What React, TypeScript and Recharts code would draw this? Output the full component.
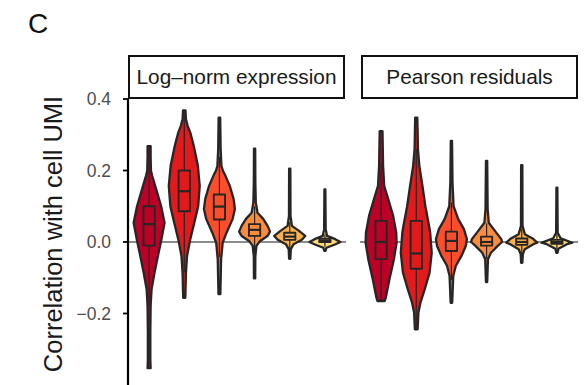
import React from 'react';
import { ScatterChart, Scatter, XAxis, YAxis, ReferenceLine } from 'recharts';

// ---------- data ----------
const groups = [1, 2, 3, 4, 5, 6];
const groupColors = ['#BD0026', '#E31A1C', '#FC4E2A', '#FD8D3C', '#FEB24C', '#FED976'];
const panelTitles = ['Log\u2013norm expression', 'Pearson residuals'];
const yTicks = [-0.2, 0, 0.2, 0.4];
const yTitle = 'Correlation with cell UMI';
const panelTag = 'C';

// Violin outlines: y levels (top -> bottom) and relative half-widths (1 = widest)
const logNormY = [
  [0.268, 0.24, 0.2, 0.185, 0.147, 0.1, 0.054, 0.008, -0.039, -0.086, -0.132, -0.179, -0.25, -0.33, -0.353],
  [0.368, 0.343, 0.325, 0.306, 0.268, 0.213, 0.157, 0.1, 0.054, 0.008, -0.039, -0.086, -0.156],
  [0.348, 0.26, 0.213, 0.2, 0.185, 0.157, 0.12, 0.092, 0.064, 0.026, -0.002, -0.048, -0.146],
  [0.261, 0.166, 0.11, 0.082, 0.064, 0.045, 0.029, 0.017, 0.003, -0.011, -0.04, -0.102],
  [0.205, 0.073, 0.045, 0.031, 0.017, 0.006, -0.006, -0.02, -0.047],
  [0.147, 0.036, 0.017, 0.008, 0.0, -0.007, -0.016, -0.025],
];
const logNormW = [
  [0.1, 0.1, 0.12, 0.2, 0.46, 0.78, 1.0, 0.8, 0.57, 0.35, 0.16, 0.1, 0.08, 0.08, 0.1],
  [0.08, 0.11, 0.22, 0.39, 0.62, 0.88, 1.0, 0.9, 0.65, 0.39, 0.18, 0.11, 0.07],
  [0.05, 0.08, 0.13, 0.22, 0.39, 0.67, 0.92, 1.0, 0.85, 0.46, 0.21, 0.11, 0.06],
  [0.04, 0.05, 0.08, 0.19, 0.57, 0.84, 1.0, 0.84, 0.36, 0.12, 0.05, 0.04],
  [0.04, 0.05, 0.14, 0.6, 1.0, 0.78, 0.25, 0.07, 0.04],
  [0.03, 0.05, 0.14, 0.67, 1.0, 0.65, 0.1, 0.04],
];
const pearsonY = [
  [0.31, 0.213, 0.157, 0.12, 0.073, 0.026, -0.002, -0.048, -0.104, -0.156, -0.165],
  [0.348, 0.26, 0.213, 0.157, 0.1, 0.045, 0.026, -0.03, -0.086, -0.132, -0.17, -0.197, -0.244],
  [0.283, 0.166, 0.1, 0.064, 0.036, 0.008, -0.011, -0.039, -0.067, -0.095, -0.17],
  [0.227, 0.092, 0.054, 0.031, 0.008, 0.0, -0.011, -0.03, -0.048, -0.112],
  [0.215, 0.045, 0.022, 0.01, -0.002, -0.006, -0.02, -0.034, -0.058],
  [0.152, 0.026, 0.01, -0.002, -0.006, -0.019, -0.03],
];
const pearsonW = [
  [0.09, 0.13, 0.2, 0.46, 0.78, 0.98, 1.0, 0.83, 0.54, 0.3, 0.24],
  [0.07, 0.11, 0.2, 0.4, 0.59, 0.83, 0.9, 1.0, 0.86, 0.55, 0.27, 0.14, 0.09],
  [0.04, 0.07, 0.14, 0.44, 0.81, 1.0, 0.93, 0.65, 0.28, 0.12, 0.05],
  [0.04, 0.07, 0.14, 0.54, 0.95, 1.0, 0.72, 0.28, 0.09, 0.04],
  [0.04, 0.05, 0.2, 0.7, 1.0, 0.75, 0.2, 0.07, 0.04],
  [0.03, 0.05, 0.25, 1.0, 0.65, 0.1, 0.04],
];

// Box plot statistics
const logNormQ1 = [-0.01, 0.086, 0.063, 0.017, 0.006, 0.0];
const logNormMedian = [0.05, 0.142, 0.099, 0.034, 0.015, 0.004];
const logNormQ3 = [0.1, 0.2, 0.133, 0.05, 0.026, 0.009];
const logNormLo = [-0.175, -0.085, -0.042, -0.033, -0.024, -0.013];
const logNormHi = [0.265, 0.365, 0.238, 0.1, 0.056, 0.022];

const pearsonQ1 = [-0.048, -0.075, -0.025, -0.01, -0.008, -0.005];
const pearsonMedian = [0.0, -0.032, 0.003, 0.0, 0.0, 0.0];
const pearsonQ3 = [0.059, 0.059, 0.029, 0.015, 0.01, 0.006];
const pearsonLo = [-0.165, -0.244, -0.106, -0.047, -0.035, -0.021];
const pearsonHi = [0.22, 0.26, 0.11, 0.052, 0.037, 0.022];

// ---------- styling ----------
const FONT = 'Liberation Sans, Arial, Helvetica, sans-serif';
const OUTLINE = '#262626';
const VIOLIN_HALF = 0.44;
const BOX_HALF = 0.16;

const hidden = () => <g />;

type Pt = { x: number; y: number };

function violinPoints(center: number, ys: number[], ws: number[]): Pt[] {
  const right = ys.map((y, i) => ({ x: center + ws[i] * VIOLIN_HALF, y }));
  const left = ys.map((y, i) => ({ x: center - ws[i] * VIOLIN_HALF, y })).reverse();
  return [...right, ...left];
}

function boxPoints(center: number, q1: number, q3: number): Pt[] {
  return [
    { x: center - BOX_HALF, y: q3 },
    { x: center + BOX_HALF, y: q3 },
    { x: center + BOX_HALF, y: q1 },
    { x: center - BOX_HALF, y: q1 },
  ];
}

type PanelProps = {
  width: number;
  height: number;
  margin: { top: number; right: number; bottom: number; left: number };
  showAxis: boolean;
  ys: number[][];
  ws: number[][];
  q1: number[];
  med: number[];
  q3: number[];
  lo: number[];
  hi: number[];
};

function Panel({ width, height, margin, showAxis, ys, ws, q1, med, q3, lo, hi }: PanelProps) {
  const items: React.ReactNode[] = [];
  groups.forEach((g, i) => {
    const color = groupColors[i];
    items.push(
      <Scatter
        key={`v${i}`}
        data={violinPoints(g, ys[i], ws[i])}
        shape={hidden}
        line={{ fill: color, stroke: OUTLINE, strokeWidth: 2.3, strokeLinejoin: 'round' }}
        lineJointType="linearClosed"
        isAnimationActive={false}
      />
    );
    items.push(
      <Scatter
        key={`w${i}`}
        data={[{ x: g, y: lo[i] }, { x: g, y: hi[i] }]}
        shape={hidden}
        line={{ stroke: OUTLINE, strokeWidth: 1.2 }}
        lineJointType="linear"
        isAnimationActive={false}
      />
    );
    items.push(
      <Scatter
        key={`b${i}`}
        data={boxPoints(g, q1[i], q3[i])}
        shape={hidden}
        line={{ fill: color, stroke: OUTLINE, strokeWidth: 1.9, strokeLinejoin: 'round' }}
        lineJointType="linearClosed"
        isAnimationActive={false}
      />
    );
    items.push(
      <Scatter
        key={`m${i}`}
        data={[{ x: g - BOX_HALF, y: med[i] }, { x: g + BOX_HALF, y: med[i] }]}
        shape={hidden}
        line={{ stroke: OUTLINE, strokeWidth: 2.2 }}
        lineJointType="linear"
        isAnimationActive={false}
      />
    );
  });

  const fmt = (v: number) => (v < 0 ? '\u2212' + Math.abs(v).toFixed(1) : v.toFixed(1));

  return (
    <ScatterChart width={width} height={height} margin={margin}>
      <XAxis type="number" dataKey="x" domain={[0.4, 6.6]} hide />
      <YAxis
        type="number"
        dataKey="y"
        domain={[-0.4, 0.4]}
        ticks={yTicks}
        hide={!showAxis}
        width={showAxis ? 128 : 0}
        axisLine={{ stroke: '#000', strokeWidth: 2.2 }}
        tickLine={{ stroke: '#000', strokeWidth: 1.8 }}
        tickSize={5}
        tickMargin={12}
        tickFormatter={fmt}
        tick={{ fill: '#4d4d4d', fontSize: 17.5, fontFamily: FONT }}
        interval={0}
      />
      <ReferenceLine y={0} stroke="#8c8c8c" strokeWidth={2.2} />
      {items}
    </ScatterChart>
  );
}

const stripStyle: React.CSSProperties = {
  position: 'absolute',
  top: 55,
  height: 44,
  width: 217,
  boxSizing: 'border-box',
  border: '2.2px solid #111',
  background: '#fff',
  display: 'flex',
  alignItems: 'center',
  justifyContent: 'center',
  fontFamily: FONT,
  fontSize: 20.8,
  color: '#1a1a1a',
  whiteSpace: 'nowrap',
};

export default function App() {
  return (
    <div
      style={{
        position: 'absolute',
        left: 0,
        top: 0,
        width: 585,
        height: 385,
        background: '#fff',
        overflow: 'hidden',
        fontFamily: FONT,
      }}
    >
      <div style={{ position: 'absolute', left: 0, top: 0 }}>
        <Panel
          width={350}
          height={385}
          margin={{ top: 99, right: 4, bottom: 0, left: 0 }}
          showAxis
          ys={logNormY}
          ws={logNormW}
          q1={logNormQ1}
          med={logNormMedian}
          q3={logNormQ3}
          lo={logNormLo}
          hi={logNormHi}
        />
      </div>
      <div style={{ position: 'absolute', left: 350, top: 0 }}>
        <Panel
          width={235}
          height={385}
          margin={{ top: 99, right: 7, bottom: 0, left: 10 }}
          showAxis={false}
          ys={pearsonY}
          ws={pearsonW}
          q1={pearsonQ1}
          med={pearsonMedian}
          q3={pearsonQ3}
          lo={pearsonLo}
          hi={pearsonHi}
        />
      </div>
      <div style={{ ...stripStyle, left: 128 }}>{panelTitles[0]}</div>
      <div style={{ ...stripStyle, left: 361 }}>{panelTitles[1]}</div>
      <svg
        width={585}
        height={385}
        style={{ position: 'absolute', left: 0, top: 0, pointerEvents: 'none' }}
      >
        <text x={28} y={33} fontSize={28} fontFamily={FONT} fill="#111">
          {panelTag}
        </text>
        <text
          x={53}
          y={234}
          transform="rotate(-90 53 234)"
          textAnchor="middle"
          dominantBaseline="central"
          fontSize={25.5}
          fontFamily={FONT}
          fill="#1a1a1a"
        >
          {yTitle}
        </text>
      </svg>
    </div>
  );
}
